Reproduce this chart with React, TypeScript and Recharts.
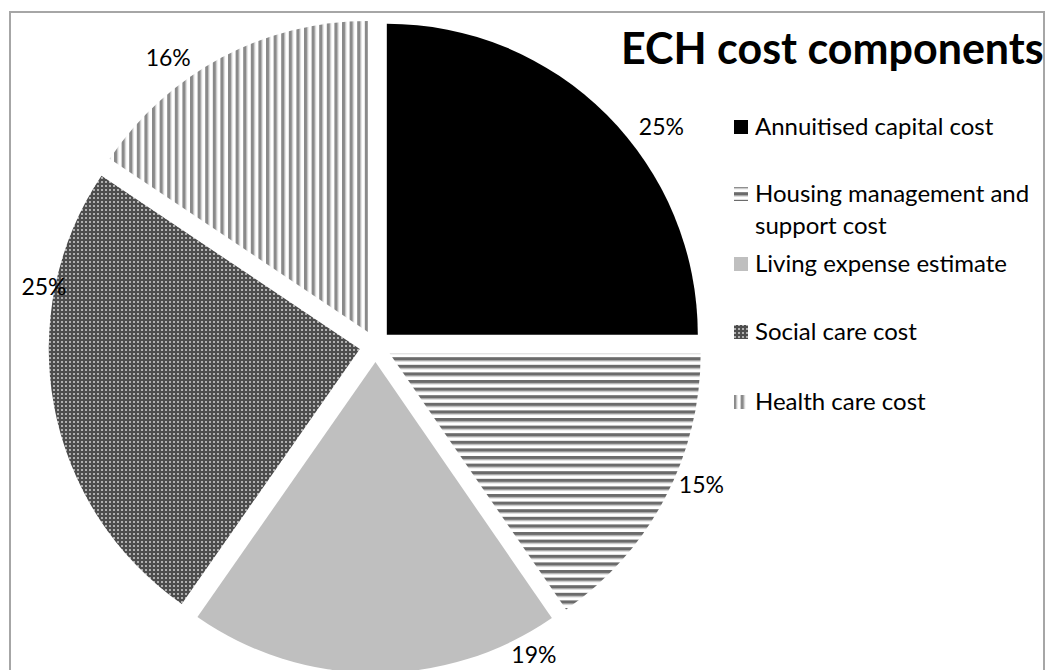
// ECH cost components — exploded pie with hatched fills, right-hand legend
import { Legend, Pie, PieChart, Sector } from "recharts";

const CATEGORIES = [
  "Annuitised capital cost",
  "Housing management and support cost",
  "Living expense estimate",
  "Social care cost",
  "Health care cost",
];
const SHARES = [25.0, 15.4, 19.3, 24.7, 15.6];
const FILLS = ["#000000", "url(#hStripe)", "#bfbfbf", "url(#dots)", "url(#vStripe)"];

// label placement tweaks (Excel best-fit style)
const LABEL_ANGLE_NUDGE = [-8, 4, 27, -20, 8];
const LABEL_PAD = [47, 45, 40, 25, 41];
// legend spacing above each entry
const LEGEND_GAPS = [0, 35, 6, 36, 38];

const RADIAN = Math.PI / 180;
const EXPLODE = 16;
const FONT = "Lato, 'Open Sans', sans-serif";

const data = CATEGORIES.map((name, i) => ({ name, value: SHARES[i], fill: FILLS[i] }));

function ExplodedSlice(props: any) {
  const { cx, cy, midAngle, innerRadius, outerRadius, startAngle, endAngle, fill } = props;
  const dx = EXPLODE * Math.cos(-midAngle * RADIAN);
  const dy = EXPLODE * Math.sin(-midAngle * RADIAN);
  return (
    <Sector
      cx={cx + dx}
      cy={cy + dy}
      innerRadius={innerRadius}
      outerRadius={outerRadius}
      startAngle={startAngle}
      endAngle={endAngle}
      fill={fill}
      stroke="none"
    />
  );
}

function SliceLabel(props: any) {
  const { cx, cy, midAngle, outerRadius, percent, index } = props;
  const a = (midAngle + LABEL_ANGLE_NUDGE[index]) * RADIAN;
  const r = outerRadius + LABEL_PAD[index];
  return (
    <text
      x={cx + r * Math.cos(-a)}
      y={cy + r * Math.sin(-a)}
      dy={-5}
      textAnchor="middle"
      dominantBaseline="central"
      fill="#000"
      fontFamily={FONT}
      fontSize={23}
    >
      {`${Math.round(percent * 100)}%`}
    </text>
  );
}

function LegendList({ payload }: any) {
  const items = [...(payload || [])].sort(
    (a: any, b: any) => CATEGORIES.indexOf(a.value) - CATEGORIES.indexOf(b.value)
  );
  return (
    <div style={{ fontFamily: FONT, fontSize: 24, color: "#000", lineHeight: "32px" }}>
      {items.map((p: any, i: number) => (
        <div key={p.value} style={{ display: "flex", alignItems: "flex-start", marginTop: LEGEND_GAPS[i] }}>
          <svg width={16} height={32} style={{ flex: "none", marginRight: 6 }}>
            <rect x={1} y={10} width={14} height={14} fill={FILLS[CATEGORIES.indexOf(p.value)]} />
          </svg>
          <span style={{ width: 292 }}>{p.value}</span>
        </div>
      ))}
    </div>
  );
}

export default function App() {
  return (
    <div style={{ position: "absolute", left: 0, top: 0, width: 1049, height: 670, background: "#fff" }}>
      <div
        style={{
          position: "absolute",
          left: 9,
          top: 11,
          width: 1036,
          height: 680,
          border: "2px solid #a6a6a6",
          boxSizing: "border-box",
        }}
      />
      <div
        style={{
          position: "absolute",
          left: 621,
          top: 22,
          fontFamily: FONT,
          fontWeight: 700,
          fontSize: 43,
          color: "#000",
          whiteSpace: "nowrap",
        }}
      >
        ECH cost components
      </div>
      <div style={{ position: "absolute", left: 0, top: 0 }}>
        <PieChart width={1049} height={670}>
          <defs>
            <pattern id="hStripe" patternUnits="userSpaceOnUse" width={8} height={7.6}>
              <rect width={8} height={7.6} fill="#ffffff" />
              <rect y={0} width={8} height={3.4} fill="#6b6b6b" />
              <rect y={3.4} width={8} height={0.8} fill="#b0b0b0" />
            </pattern>
            <pattern id="vStripe" patternUnits="userSpaceOnUse" width={7.6} height={8}>
              <rect width={7.6} height={8} fill="#ffffff" />
              <rect x={0} width={3.4} height={8} fill="#8a8a8a" />
              <rect x={3.4} width={0.8} height={8} fill="#c4c4c4" />
            </pattern>
            <pattern id="dots" patternUnits="userSpaceOnUse" width={4} height={4}>
              <rect width={4} height={4} fill="#4d4d4d" />
              <circle cx={2} cy={2} r={1} fill="#d0d0d0" />
            </pattern>
          </defs>
          <Pie
            data={data}
            dataKey="value"
            nameKey="name"
            cx={370.5}
            cy={341}
            outerRadius={311}
            startAngle={90}
            endAngle={-270}
            stroke="none"
            shape={ExplodedSlice}
            activeShape={ExplodedSlice}
            inactiveShape={ExplodedSlice}
            label={SliceLabel}
            labelLine={false}
            isAnimationActive={false}
          />
          <Legend
            layout="vertical"
            align="right"
            verticalAlign="top"
            content={<LegendList />}
            wrapperStyle={{ left: 733, top: 110, width: 316, right: "auto" }}
          />
        </PieChart>
      </div>
    </div>
  );
}
